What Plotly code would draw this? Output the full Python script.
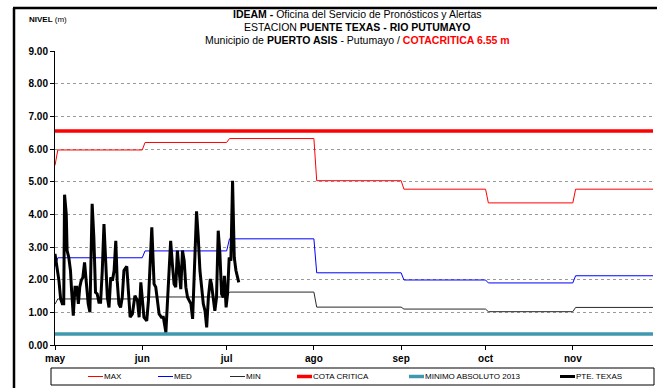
import pandas as pd
import plotly.graph_objects as go

# --- data -------------------------------------------------------------
meses = ["2014-05-01", "2014-06-01", "2014-07-01", "2014-08-01",
         "2014-09-01", "2014-10-01", "2014-11-01"]
etiquetas_mes = ["may", "jun", "jul", "ago", "sep", "oct", "nov"]
fin_eje = "2014-11-29 12:00"

nivel_max = [5.97, 6.20, 6.32, 5.03, 4.77, 4.35, 4.77]
nivel_med = [2.67, 2.88, 3.25, 2.21, 1.99, 1.90, 2.12]
nivel_min = [1.41, 1.47, 1.62, 1.16, 1.10, 1.02, 1.15]
inicio_max, inicio_med, inicio_min = 5.50, 2.40, 1.25

cota_critica = 6.55
minimo_absoluto_2013 = 0.34

# PTE. TEXAS readings: days elapsed since 1 May and level (m)
dias_pte = [0, 0.8, 1.4, 2.0, 2.6, 3.1, 3.4, 4.0, 4.3, 4.9, 5.5, 5.9, 6.5, 7.1,
            7.7, 8.3, 8.8, 9.3, 9.9, 10.5, 11.2, 11.8, 12.4, 13.2, 13.8, 14.4,
            15.0, 15.6, 16.2, 16.8, 17.4, 18.0, 18.6, 19.2, 19.8, 20.4, 21.0,
            21.6, 22.1, 22.7, 23.3, 23.9, 24.5, 25.5, 25.9, 26.7, 27.5, 28.4,
            29.3, 29.9, 30.5, 31.1, 31.6, 32.6, 33.2, 34.4, 35.2, 35.8, 36.4,
            37.0, 37.8, 38.5, 39.4, 40.0, 40.6, 41.1, 41.7, 42.3, 42.9, 43.5,
            44.1, 44.7, 45.3, 45.9, 46.5, 47.1, 47.7, 48.3, 48.9, 49.5, 50.3,
            50.9, 51.5, 52.1, 52.7, 53.3, 53.9, 54.5, 55.2, 55.6, 56.2, 56.8,
            57.4, 58.0, 58.6, 59.2, 59.8, 60.2, 60.8, 61.3, 61.9, 62.5, 63.1,
            63.7, 64.3, 64.9, 65.3]
nivel_pte = [2.79, 2.38, 1.97, 1.41, 1.26, 1.26, 4.60, 4.01, 2.89, 2.68, 2.28,
             1.66, 0.90, 1.77, 1.77, 1.26, 1.77, 1.97, 2.07, 2.53, 1.87, 1.26,
             1.00, 4.32, 3.30, 1.61, 1.56, 1.31, 1.31, 2.28, 3.70, 2.58, 1.46,
             1.15, 2.07, 1.97, 2.28, 3.19, 1.97, 1.26, 1.15, 1.46, 2.28, 2.41,
             1.87, 0.85, 0.95, 1.51, 1.36, 0.85, 1.92, 1.36, 0.85, 0.74, 1.36,
             3.60, 1.87, 1.77, 1.26, 0.95, 0.85, 0.85, 0.39, 1.26, 2.28, 3.19,
             2.48, 1.87, 1.77, 2.89, 2.28, 1.71, 2.89, 2.58, 1.77, 1.46, 1.36,
             1.26, 0.80, 2.28, 4.09, 3.30, 2.28, 1.77, 1.26, 1.05, 0.54, 1.46,
             2.02, 1.87, 1.46, 1.05, 1.46, 3.50, 2.79, 1.56, 1.46, 2.12, 1.15,
             1.56, 2.68, 2.58, 5.03, 2.68, 2.28, 2.07, 1.92]

series = [
    # name, colour, width
    ("MAX", "#ff0000", 1),
    ("MED", "#0000ff", 1),
    ("MIN", "#2a2a2a", 1),
    ("COTA CRITICA", "#ff0000", 3.5),
    ("MINIMO ABSOLUTO 2013", "#3f98ad", 3.5),
    ("PTE. TEXAS", "#000000", 3),
]

# --- helpers ----------------------------------------------------------
inicio = pd.Timestamp(meses[0])
fechas_mes = [pd.Timestamp(m) for m in meses]
fin_serie = pd.Timestamp("2014-12-01")


def escalones(valores, valor_inicial):
    """Monthly step line: each month's value holds from its 2nd day."""
    xs, ys = [inicio], [valor_inicial]
    for i, v in enumerate(valores):
        desde = fechas_mes[i] + pd.Timedelta(days=1)
        hasta = fechas_mes[i + 1] if i + 1 < len(fechas_mes) else fin_serie
        xs += [desde, hasta]
        ys += [v, v]
    return xs, ys


x_pte = [inicio + pd.Timedelta(days=d) for d in dias_pte]

fig = go.Figure()
datos = {
    "MAX": escalones(nivel_max, inicio_max),
    "MED": escalones(nivel_med, inicio_med),
    "MIN": escalones(nivel_min, inicio_min),
    "COTA CRITICA": ([inicio, fin_serie], [cota_critica, cota_critica]),
    "MINIMO ABSOLUTO 2013": ([inicio, fin_serie],
                             [minimo_absoluto_2013, minimo_absoluto_2013]),
    "PTE. TEXAS": (x_pte, nivel_pte),
}
orden_dibujo = ["MINIMO ABSOLUTO 2013", "COTA CRITICA", "MAX", "MED", "MIN",
                "PTE. TEXAS"]
estilo = {n: (c, w) for n, c, w in series}
for nombre in orden_dibujo:
    xs, ys = datos[nombre]
    c, w = estilo[nombre]
    fig.add_trace(go.Scatter(x=xs, y=ys, mode="lines", name=nombre,
                             line=dict(color=c, width=w), showlegend=False,
                             hoverinfo="skip"))

# --- layout -----------------------------------------------------------
W, H = 657, 388
ML, MR, MT, MB = 55, 4, 51, 43
PW, PH = W - ML - MR, H - MT - MB


def px(xp):
    return (xp - ML) / PW


def py(yp):
    return (H - MB - yp) / PH


FONT = "Liberation Sans, Arial, sans-serif"

fig.update_layout(
    width=W, height=H,
    margin=dict(l=ML, r=MR, t=MT, b=MB),
    paper_bgcolor="white", plot_bgcolor="white",
    font=dict(family=FONT, color="black"),
    showlegend=False,
)
fig.update_xaxes(
    type="date", range=[meses[0], fin_eje],
    tickvals=meses, ticktext=etiquetas_mes,
    tickfont=dict(size=10, weight="bold"),
    ticks="outside", ticklen=4, tickcolor="black",
    showline=True, linecolor="black", linewidth=1,
    showgrid=False, zeroline=False,
)
fig.update_yaxes(
    range=[0, 9], tickvals=list(range(0, 10)),
    tickformat=".2f",
    tickfont=dict(size=10, weight="bold"),
    ticks="outside", ticklen=4, tickcolor="black",
    showline=True, linecolor="black", linewidth=1,
    showgrid=True, gridcolor="#9a9a9a", gridwidth=1, griddash="dot",
    zeroline=False,
)

anotaciones = []
# title block
titulo = [
    "<b>IDEAM -</b> Oficina del Servicio de Pronósticos y Alertas",
    "ESTACION <b>PUENTE TEXAS - RIO PUTUMAYO</b>",
    "Municipio de <b>PUERTO ASIS</b> - Putumayo / "
    "<b><span style='color:#ff0000'>COTACRITICA " + f"{cota_critica:.2f}" + " m</span></b>",
]
for linea, yp in zip(titulo, [14, 27, 40]):
    anotaciones.append(dict(text=linea, xref="paper", yref="paper",
                            x=px(357), y=py(yp), xanchor="center",
                            yanchor="middle", showarrow=False,
                            font=dict(size=10.5, family=FONT)))
anotaciones.append(dict(text="<b>NIVEL</b> (m)", xref="paper", yref="paper",
                        x=px(27), y=py(19), xanchor="left", yanchor="middle",
                        showarrow=False, font=dict(size=8, family=FONT)))

formas = []
# outer frame (left and top edges)
formas.append(dict(type="line", xref="paper", yref="paper",
                   x0=px(14), x1=px(14), y0=py(8), y1=py(392),
                   line=dict(color="black", width=2.5)))
formas.append(dict(type="line", xref="paper", yref="paper",
                   x0=px(13), x1=px(662), y0=py(8), y1=py(8),
                   line=dict(color="black", width=2.5)))
# legend box
formas.append(dict(type="rect", xref="paper", yref="paper",
                   x0=px(51), x1=px(654), y0=py(385), y1=py(368),
                   line=dict(color="black", width=1), fillcolor="white"))
leyenda_x = [88, 158, 230, 297, 409, 560]
y_ley = py(376.5)
for (nombre, c, w), xl in zip(series, leyenda_x):
    formas.append(dict(type="line", xref="paper", yref="paper",
                       x0=px(xl), x1=px(xl + 15), y0=y_ley, y1=y_ley,
                       line=dict(color=c, width=w)))
    anotaciones.append(dict(text=nombre, xref="paper", yref="paper",
                            x=px(xl + 15), y=y_ley, xanchor="left",
                            yanchor="middle", showarrow=False,
                            xshift=-1,
                            font=dict(size=8, family=FONT)))

fig.update_layout(annotations=anotaciones, shapes=formas)
fig.write_html("out.html")
